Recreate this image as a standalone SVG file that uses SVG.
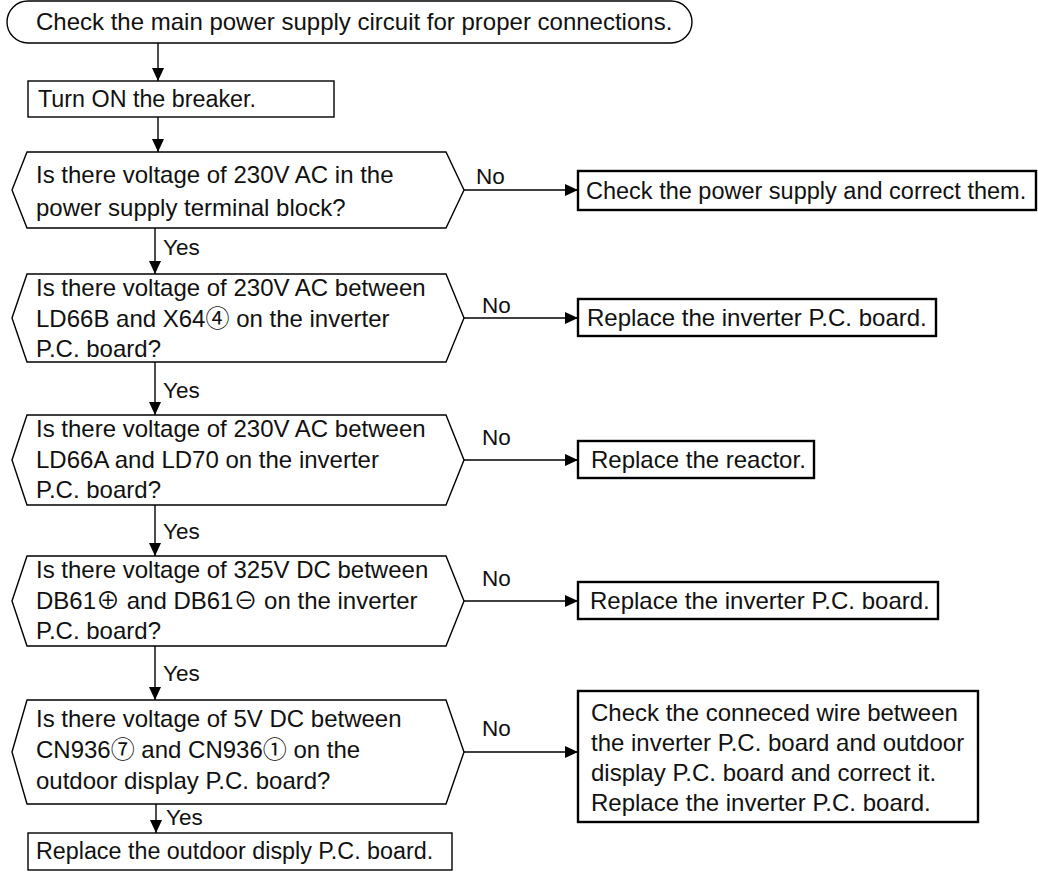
<svg xmlns="http://www.w3.org/2000/svg" width="1038" height="874" viewBox="0 0 1038 874">
<defs>
<marker id="ah" markerUnits="userSpaceOnUse" markerWidth="14" markerHeight="14" viewBox="0 0 14 14" refX="13" refY="7" orient="auto">
<path d="M0,1 L13,7 L0,13 Z" fill="#000"/>
</marker>
<style>
text{font-family:"Liberation Sans","Noto Sans CJK JP",Arial,sans-serif;font-size:24px;fill:#111}
.s{fill:#fff;stroke:#000;stroke-width:1.4}
.b{fill:#fff;stroke:#000;stroke-width:2.4}
.c{fill:none;stroke:#000;stroke-width:1.4;marker-end:url(#ah)}
.l{font-size:22.5px}
.sm{font-size:23.3px}
</style>
</defs>
<rect width="1038" height="874" fill="#fff"/>
<g id="connectors">
<line class="c" x1="158" y1="43" x2="158" y2="81"/>
<line class="c" x1="158" y1="117" x2="158" y2="152"/>
<line class="c" x1="464" y1="190" x2="578" y2="190"/>
<line class="c" x1="155" y1="228" x2="155" y2="274"/>
<line class="c" x1="464" y1="318" x2="578" y2="318"/>
<line class="c" x1="155" y1="362" x2="155" y2="415"/>
<line class="c" x1="464" y1="460" x2="578" y2="460"/>
<line class="c" x1="155" y1="505" x2="155" y2="556"/>
<line class="c" x1="464" y1="601" x2="578" y2="601"/>
<line class="c" x1="155" y1="646" x2="155" y2="700"/>
<line class="c" x1="464" y1="752" x2="578" y2="752"/>
<line class="c" x1="156" y1="804" x2="156" y2="833"/>
<text class="l" x="476" y="184">No</text>
<text class="l" x="163" y="255">Yes</text>
<text class="l" x="482" y="313">No</text>
<text class="l" x="163" y="398">Yes</text>
<text class="l" x="482" y="445">No</text>
<text class="l" x="163" y="539">Yes</text>
<text class="l" x="482" y="586">No</text>
<text class="l" x="163" y="681">Yes</text>
<text class="l" x="482" y="736">No</text>
<text class="l" x="166" y="825">Yes</text>
</g>
<g id="start">
<rect class="s" x="7" y="1" width="685" height="42" rx="21" ry="21"/>
<text x="36" y="30">Check the main power supply circuit for proper connections.</text>
</g>
<g id="turn-on">
<rect class="s" x="28" y="81" width="306" height="36"/>
<text class="sm" x="38" y="107">Turn ON the breaker.</text>
</g>
<g id="d1">
<polygon class="s" points="12,190 27,152 446,152 464,190 446,228 27,228"/>
<text x="36" y="183">Is there voltage of 230V AC in the</text>
<text x="36" y="216">power supply terminal block?</text>
</g>
<g id="r1">
<rect class="b" x="578" y="171" width="458" height="39"/>
<text x="586" y="199" style="font-size:23.5px">Check the power supply and correct them.</text>
</g>
<g id="d2">
<polygon class="s" points="12,318 27,274 446,274 464,318 446,362 27,362"/>
<text x="36" y="296">Is there voltage of 230V AC between</text>
<text x="36" y="327">LD66B and X64④ on the inverter</text>
<text x="36" y="357">P.C. board?</text>
</g>
<g id="r2">
<rect class="b" x="578" y="299" width="358" height="37"/>
<text x="587" y="326">Replace the inverter P.C. board.</text>
</g>
<g id="d3">
<polygon class="s" points="12,460 27,415 446,415 464,460 446,505 27,505"/>
<text x="36" y="437">Is there voltage of 230V AC between</text>
<text x="36" y="468">LD66A and LD70 on the inverter</text>
<text x="36" y="498">P.C. board?</text>
</g>
<g id="r3">
<rect class="b" x="578" y="441" width="236" height="37"/>
<text x="591" y="468">Replace the reactor.</text>
</g>
<g id="d4">
<polygon class="s" points="12,601 27,556 446,556 464,601 446,646 27,646"/>
<text x="36" y="578">Is there voltage of 325V DC between</text>
<text x="36" y="609">DB61⊕ and DB61⊖ on the inverter</text>
<text x="36" y="639">P.C. board?</text>
</g>
<g id="r4">
<rect class="b" x="578" y="582" width="360" height="37"/>
<text x="590" y="609">Replace the inverter P.C. board.</text>
</g>
<g id="d5">
<polygon class="s" points="12,752 27,700 446,700 464,752 446,804 27,804"/>
<text x="36" y="727">Is there voltage of 5V DC between</text>
<text x="36" y="758">CN936⑦ and CN936① on the</text>
<text x="36" y="789">outdoor display P.C. board?</text>
</g>
<g id="r5">
<rect class="b" x="578" y="691" width="400" height="131"/>
<text x="591" y="721">Check the conneced wire between</text>
<text x="591" y="751">the inverter P.C. board and outdoor</text>
<text x="591" y="781">display P.C. board and correct it.</text>
<text x="591" y="811">Replace the inverter P.C. board.</text>
</g>
<g id="end">
<rect class="s" x="28" y="833" width="424" height="37"/>
<text class="sm" x="36" y="859">Replace the outdoor disply P.C. board.</text>
</g>
</svg>
